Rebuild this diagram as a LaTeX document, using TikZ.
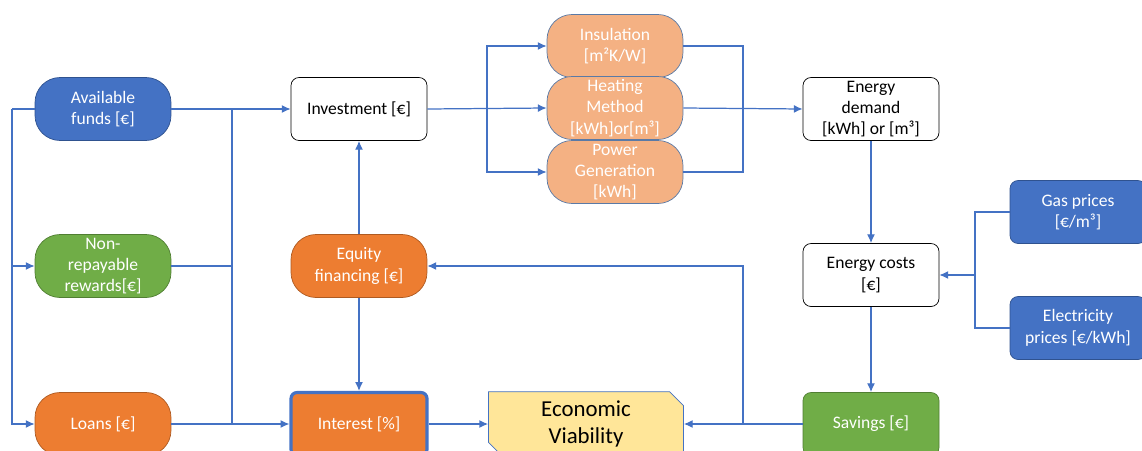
\documentclass[tikz,border=0pt]{standalone}
\usepackage{fontspec}
\setmainfont{Carlito}
\usetikzlibrary{arrows.meta,shapes.misc}
\definecolor{linkblue}{HTML}{4472C4}
\definecolor{fundblue}{HTML}{4472C4}
\definecolor{funddark}{HTML}{2F528F}
\definecolor{gain}{HTML}{70AD47}
\definecolor{gaindark}{HTML}{507E32}
\definecolor{cost}{HTML}{ED7D31}
\definecolor{costdark}{HTML}{AE5A21}
\definecolor{measure}{HTML}{F4B183}
\definecolor{measuredark}{HTML}{5A7AA6}
\definecolor{result}{HTML}{FFE699}
\tikzset{
	box/.style={draw=black,fill=white,rounded corners=.16cm,minimum width=2.72cm,minimum height=1.26cm,
		align=center,inner sep=1pt,font=\fontsize{10}{12.2}\selectfont},
	pill/.style={box,rounded corners=.5cm,text=white},
	wire/.style={draw=linkblue,line width=.7pt},
	link/.style={wire,-{Latex[length=5pt,width=4.5pt]}}
}
\begin{document}
\begin{tikzpicture}[x=.02cm,y=-.02cm]
	\useasboundingbox (0,0) rectangle (1142,450);
	\clip (0,0) rectangle (1142,450);
	% sources
	\node[pill,fill=fundblue,draw=funddark] (avail) at (103,109) {Available\\funds [€]};
	\node[pill,fill=gain,draw=gaindark] (reward) at (103,266) {Non-\\repayable\\rewards[€]};
	\node[pill,fill=cost,draw=costdark] (loans) at (103,424) {Loans [€]};
	\node[box] (invest) at (359,109) {Investment [€]};
	\node[pill,fill=cost,draw=costdark] (equity) at (359,266) {Equity\\financing [€]};
	\node[box,fill=cost,draw=linkblue,line width=1.8pt,rounded corners=.12cm,text=white] (interest) at (359,424) {Interest [\%]};
	\node[box,chamfered rectangle,chamfered rectangle corners={north east,south west},
		chamfered rectangle xsep=.14cm,chamfered rectangle ysep=.14cm,
		fill=result,draw=linkblue,minimum width=3.9cm,rounded corners=0pt,
		font=\fontsize{13}{15.8}\selectfont] (ev) at (586,424) {Economic\\Viability};
	% measures
	\node[pill,fill=measure,draw=measuredark] (insul) at (615,46) {Insulation\\{[m²K/W]}};
	\node[pill,fill=measure,draw=measuredark] (heat) at (615,108) {Heating\\Method\\{[kWh]or[m³]}};
	\node[pill,fill=measure,draw=measuredark] (power) at (615,172) {Power\\Generation\\{[kWh]}};
	% energy
	\node[box] (demand) at (871,109) {Energy\\demand\\{[kWh] or [m³]}};
	\node[box] (costs) at (871,275) {Energy costs\\{[€]}};
	\node[box,fill=gain,draw=gaindark,text=white] (savings) at (871,424) {Savings [€]};
	\node[box,fill=fundblue,draw=funddark,text=white] (gas) at (1078,212) {Gas prices\\{[€/m³]}};
	\node[box,fill=fundblue,draw=funddark,text=white] (elec) at (1078,328) {Electricity\\prices [€/kWh]};
	% left buses
	\coordinate (lb) at (12,109);
	\coordinate (mb) at (232,109);
	\draw[wire] (avail.west) -- (lb);
	\draw[link] (lb) |- (reward.west);
	\draw[link] (lb) |- (loans.west);
	\draw[link] (avail.east) -- (invest.west);
	\draw[wire] (reward.east) -| (mb);
	\draw[wire] (mb) -- (mb |- loans.east);
	\draw[link] (loans.east) -- (interest.west);
	\draw[link] (equity) -- (invest);
	\draw[link] (equity) -- (interest);
	% measures fan
	\coordinate (fl) at (487,108);
	\coordinate (fr) at (743,108);
	\draw[link] (invest.east) -- (heat.west);
	\draw[link] (fl) |- (insul.west);
	\draw[link] (fl) |- (power.west);
	\draw[wire] (insul.east) -| (fr);
	\draw[wire] (power.east) -| (fr);
	\draw[link] (heat.east) -- (demand.west);
	% costs and savings
	\draw[link] (demand) -- (costs);
	\draw[link] (costs) -- (savings);
	\coordinate (pb) at (975,275);
	\draw[wire] (gas.west) -| (pb);
	\draw[wire] (elec.west) -| (pb);
	\draw[link] (pb) -- (costs.east);
	\coordinate (sb) at (743,424);
	\draw[link] (savings.west) -- (ev.east);
	\draw[link] (sb) |- (equity.east);
	\draw[link] (interest.east) -- (ev.west);
\end{tikzpicture}
\end{document}
